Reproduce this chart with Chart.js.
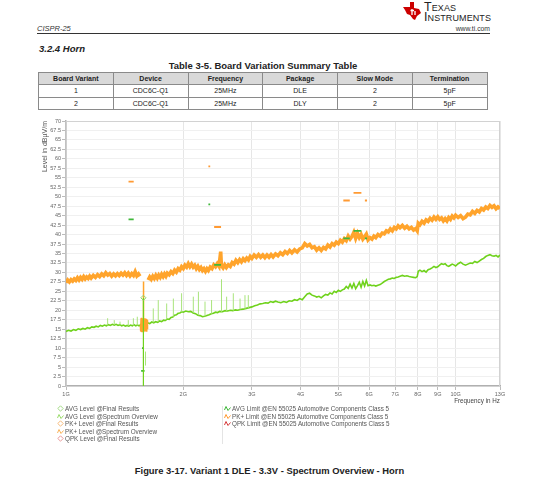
<!DOCTYPE html>
<html>
<head>
<meta charset="utf-8">
<script src="https://cdn.jsdelivr.net/npm/chart.js@4.4.1/dist/chart.umd.min.js"></script>
<style>
  html, body { margin: 0; padding: 0; background: #fff; }
  body { width: 539px; height: 480px; position: relative; overflow: hidden; font-family: "Liberation Sans", Arial, sans-serif; color: #222; }
  .abs { position: absolute; }
  #brand { left: 424px; top: 3px; font-size: 12.5px; line-height: 9.5px; font-variant: small-caps; letter-spacing: 0.1px; color: #222; }
  #doc { left: 37px; top: 24px; font-size: 7.5px; font-style: italic; color: #333; }
  #url { right: 49px; top: 25px; font-size: 6.8px; color: #333; }
  #rule { left: 37px; top: 32.5px; width: 453px; height: 1.7px; background: #333; }
  #section { left: 39px; top: 43px; font-size: 9.5px; font-weight: bold; font-style: italic; }
  #tabTitle { left: 38px; top: 59.5px; width: 450px; text-align: center; font-size: 9.5px; font-weight: bold; }
  table { position: absolute; left: 38px; top: 71.5px; width: 449.5px; border-collapse: collapse; table-layout: fixed; font-size: 7px; }
  td, th { border: 1px solid #8a8a8a; height: 11.6px; padding: 0; text-align: center; line-height: 11px; }
  th { background: #d9d9d9; font-weight: bold; }
  #wrap { left: 0; top: 112px; width: 539px; height: 300px; }
  .leg { font-size: 6.3px; color: #555; line-height: 7.6px; white-space: nowrap; }
  .leg svg { vertical-align: -1px; margin-right: 1px; }
  #legL { left: 57px; top: 405px; }
  #legR { left: 224px; top: 405px; }
  #legSep { left: 222px; top: 406px; width: 1px; height: 38px; background: #e4e4e4; }
  #caption { left: 0; top: 465px; width: 539px; text-align: center; font-size: 9.4px; font-weight: bold; }
</style>
</head>
<body>
<svg class="abs" style="left:402px;top:1px" width="20" height="20" viewBox="0 0 20 20">
  <path d="M1,6 L8,6 L8,1 L12,1 L12,7 L17,8 L19,12 L15,15 L13,19 L11,18 L8,14 L5,13 L3,9 Z" fill="#cc0000"/>
  <path d="M10,8 L10,14 M8.5,9.5 L12,9.5 M13,10 L13,14" stroke="#fff" stroke-width="1.3"/>
</svg>
<div id="brand" class="abs">Texas<br>Instruments</div>
<div id="doc" class="abs">CISPR-25</div>
<div id="url" class="abs">www.ti.com</div>
<div id="rule" class="abs"></div>
<div id="section" class="abs">3.2.4 Horn</div>
<div id="tabTitle" class="abs">Table 3-5. Board Variation Summary Table</div>
<table>
  <tr><th>Board Variant</th><th>Device</th><th>Frequency</th><th>Package</th><th>Slow Mode</th><th>Termination</th></tr>
  <tr><td>1</td><td>CDC6C-Q1</td><td>25MHz</td><td>DLE</td><td>2</td><td>5pF</td></tr>
  <tr><td>2</td><td>CDC6C-Q1</td><td>25MHz</td><td>DLY</td><td>2</td><td>5pF</td></tr>
</table>

<div id="wrap" class="abs"><canvas id="emcChart" width="539" height="300"></canvas></div>

<div id="legL" class="abs leg"></div>
<div id="legSep" class="abs"></div>
<div id="legR" class="abs leg"></div>
<div id="caption" class="abs">Figure 3-17. Variant 1 DLE - 3.3V - Spectrum Overview - Horn</div>

<script>
// axis ticks
const xTickValues = [1, 2, 3, 4, 5, 6, 7, 8, 9, 10, 13];
const xTickLabels = ['1G', '2G', '3G', '4G', '5G', '6G', '7G', '8G', '9G', '10G', '13G'];
const yTickValues = [0, 2.5, 5, 7.5, 10, 12.5, 15, 17.5, 20, 22.5, 25, 27.5, 30, 32.5, 35, 37.5, 40,
  42.5, 45, 47.5, 50, 52.5, 55, 57.5, 60, 62.5, 65, 67.5, 70];

// PK+ Level @Spectrum Overview (GHz, dBµV/m), null = gap
const pkFreq = [1.000, 1.010, 1.020, 1.030, 1.040, 1.050, 1.060, 1.070, 1.080, 1.090, 1.100, 1.110, 1.120, 1.130,
  1.140, 1.150, 1.160, 1.175, 1.190, 1.205, 1.220, 1.235, 1.250, 1.265, 1.280, 1.295, 1.310, 1.325, 1.340, 1.355,
  1.370, 1.385, 1.400, 1.415, 1.430, 1.445, 1.460, 1.475, 1.490, 1.505, 1.520, 1.535, 1.548, 1.552,
  1.625, 1.640, 1.655, 1.670, 1.685, 1.700, 1.715, 1.730, 1.745, 1.760, 1.775, 1.790, 1.805, 1.820, 1.840, 1.860,
  1.880, 1.900, 1.920, 1.940, 1.960, 1.980, 2.000, 2.020, 2.040, 2.060, 2.080, 2.100, 2.120, 2.140, 2.160, 2.180,
  2.200, 2.220, 2.240, 2.260, 2.280, 2.300, 2.320, 2.345, 2.370, 2.395, 2.420, 2.445, 2.470, 2.495, 2.505, 2.530,
  2.555, 2.580, 2.610, 2.640, 2.670, 2.700, 2.730, 2.760, 2.790, 2.820, 2.850, 2.880, 2.910, 2.940, 2.970, 3.000,
  3.040, 3.080, 3.120, 3.160, 3.200, 3.240, 3.280, 3.320, 3.360, 3.400, 3.450, 3.500, 3.550, 3.600, 3.650, 3.700,
  3.750, 3.800, 3.860, 3.920, 3.980, 4.040, 4.100, 4.160, 4.220, 4.280, 4.340, 4.400, 4.460, 4.520, 4.580, 4.640,
  4.700, 4.760, 4.820, 4.880, 4.940, 5.000, 5.060, 5.120, 5.180, 5.240, 5.300, 5.360, 5.420, 5.480, 5.540, 5.600,
  5.660, 5.720, 5.780, 5.840, 5.900, 5.960, 6.030, 6.100, 6.170, 6.240, 6.320, 6.400, 6.480, 6.560, 6.640, 6.720,
  6.800, 6.880, 6.960, 7.040, 7.120, 7.200, 7.300, 7.400, 7.500, 7.600, 7.700, 7.800, 7.900, 7.970, 8.020, 8.100,
  8.200, 8.300, 8.400, 8.500, 8.600, 8.700, 8.800, 8.900, 9.000, 9.100, 9.200, 9.300, 9.400, 9.500, 9.600, 9.700,
  9.800, 9.900, 10.00, 10.15, 10.30, 10.45, 10.60, 10.75, 10.90, 11.05, 11.20, 11.35, 11.50, 11.65, 11.80, 11.95,
  12.10, 12.25, 12.40, 12.55, 12.70, 12.85, 13.00];
const pkLevel = [27.3, 28.0, 27.5, 28.1, 27.7, 28.3, 27.9, 28.6, 28.0, 28.7, 28.2, 28.9, 28.3, 28.8,
  28.4, 29.0, 28.5, 29.2, 28.7, 29.4, 28.9, 29.6, 29.1, 29.9, 29.3, 29.7, 29.0, 29.6, 29.1, 29.7,
  29.2, 29.8, 29.3, 29.9, 29.2, 29.8, 29.1, 29.7, 29.2, 30.2, 29.1, 29.6, 29.0, null,
  28.0, 28.8, 28.2, 29.0, 28.4, 29.2, 28.5, 29.3, 28.7, 29.5, 28.9, 29.6, 29.0, 29.8, 29.4, 30.2,
  29.7, 30.6, 30.1, 31.0, 30.6, 31.5, 31.0, 31.9, 31.4, 32.3, 31.5, 32.2, 31.4, 31.9, 31.0, 31.6,
  30.8, 31.3, 30.5, 31.0, 30.3, 31.0, 30.5, 31.4, 31.0, 32.0, 31.5, 32.3, 31.6, 35.5, 31.8, 31.2,
  32.0, 31.3, 32.0, 31.6, 32.6, 32.2, 33.2, 32.6, 33.4, 32.8, 33.6, 33.1, 33.8, 33.3, 34.2, 33.7,
  34.6, 34.0, 34.7, 34.0, 34.6, 33.9, 34.6, 34.0, 34.7, 34.1, 34.9, 34.4, 35.2, 34.7, 35.5, 35.0,
  35.8, 35.2, 36.0, 35.4, 36.2, 36.5, 37.6, 37.0, 37.4, 36.5, 36.8, 35.9, 36.5, 35.8, 36.6, 36.2,
  37.2, 36.7, 37.6, 37.2, 38.0, 37.6, 38.5, 38.0, 38.9, 38.4, 39.6, 38.8, 39.5, 40.6, 39.0, 40.3,
  39.2, 40.0, 38.8, 39.4, 40.1, 38.6, 39.2, 38.8, 39.6, 39.2, 40.0, 39.6, 40.4, 40.2, 41.0, 40.7,
  41.5, 41.0, 41.9, 41.5, 42.3, 41.8, 42.4, 41.7, 42.2, 41.5, 41.9, 41.2, 41.6, 41.0, 43.0, 42.6,
  43.5, 43.0, 43.9, 43.5, 44.3, 43.8, 44.6, 44.0, 44.7, 44.0, 44.4, 43.6, 44.2, 43.6, 44.5, 44.0,
  44.9, 44.4, 45.1, 44.5, 45.0, 44.2, 44.6, 45.4, 45.2, 46.1, 45.6, 46.4, 46.0, 46.9, 46.5, 47.3,
  46.9, 47.7, 47.2, 47.6, 46.8, 47.3, 46.9];

// PK+ spectrum inside the GPS band (dense block)
const pkGpsFreq = [1.552, 1.555, 1.558, 1.561, 1.564, 1.567, 1.570, 1.573, 1.576, 1.579, 1.580, 1.581, 1.583,
  1.586, 1.589, 1.592, 1.595, 1.598, 1.601, 1.604, 1.607, 1.610, 1.613, 1.616, 1.619];
const pkGpsLevel = [16.0, 14.4, 17.9, 14.3, 18.0, 14.4, 17.9, 14.5, 17.8, 14.4, 17.6, 27.6, 14.5,
  17.8, 14.4, 17.9, 14.5, 17.8, 14.6, 17.6, 14.5, 17.7, 14.6, 17.4, 15.0];

// AVG Level @Spectrum Overview
const avgFreq = [1.000, 1.015, 1.030, 1.045, 1.060, 1.075, 1.090, 1.105, 1.120, 1.135, 1.150, 1.165, 1.180, 1.195,
  1.210, 1.225, 1.240, 1.255, 1.270, 1.285, 1.300, 1.315, 1.330, 1.345, 1.360, 1.375, 1.390, 1.405, 1.420, 1.435,
  1.450, 1.465, 1.480, 1.495, 1.510, 1.525, 1.540, 1.560, 1.580, 1.600, 1.620, 1.640, 1.660, 1.680, 1.700, 1.720,
  1.740, 1.760, 1.780, 1.800, 1.820, 1.840, 1.860, 1.880, 1.900, 1.920, 1.940, 1.960, 1.980, 2.000, 2.030, 2.060,
  2.090, 2.120, 2.150, 2.180, 2.210, 2.240, 2.270, 2.300, 2.330, 2.360, 2.390, 2.420, 2.450, 2.480, 2.520, 2.560,
  2.600, 2.640, 2.680, 2.720, 2.760, 2.800, 2.850, 2.900, 2.950, 3.000, 3.050, 3.100, 3.150, 3.200, 3.250, 3.300,
  3.350, 3.400, 3.450, 3.500, 3.560, 3.620, 3.680, 3.740, 3.800, 3.860, 3.920, 3.980, 4.040, 4.100, 4.160, 4.220,
  4.280, 4.340, 4.400, 4.460, 4.520, 4.580, 4.640, 4.700, 4.760, 4.820, 4.880, 4.940, 5.000, 5.060, 5.120, 5.180,
  5.240, 5.300, 5.360, 5.420, 5.480, 5.540, 5.600, 5.660, 5.720, 5.780, 5.840, 5.900, 5.960, 6.030, 6.100, 6.170,
  6.240, 6.320, 6.400, 6.480, 6.560, 6.640, 6.720, 6.800, 6.880, 6.960, 7.040, 7.120, 7.200, 7.300, 7.400, 7.500,
  7.600, 7.700, 7.800, 7.900, 7.970, 8.020, 8.100, 8.200, 8.300, 8.400, 8.500, 8.600, 8.700, 8.800, 8.900, 9.000,
  9.100, 9.200, 9.300, 9.400, 9.500, 9.600, 9.700, 9.800, 9.900, 10.00, 10.15, 10.30, 10.45, 10.60, 10.75, 10.90,
  11.05, 11.20, 11.35, 11.50, 11.65, 11.80, 11.95, 12.10, 12.25, 12.40, 12.55, 12.70, 12.85, 13.00];
const avgLevel = [14.4, 14.7, 14.5, 14.9, 14.7, 15.1, 14.9, 15.2, 15.0, 15.4, 15.2, 15.6, 15.5, 15.8,
  15.6, 16.0, 15.8, 16.1, 15.9, 16.2, 16.0, 16.3, 16.1, 16.3, 16.0, 16.2, 15.9, 16.1, 15.8, 16.0,
  15.8, 16.1, 15.9, 16.2, 15.9, 16.1, 15.9, 16.3, 16.5, 16.4, 16.7, 16.5, 16.9, 16.7, 17.0, 16.8,
  17.2, 17.0, 17.4, 17.3, 17.7, 17.6, 18.1, 18.2, 18.7, 18.8, 19.2, 19.3, 19.6, 19.5, 19.8, 19.6,
  19.7, 19.3, 19.1, 18.7, 18.6, 18.3, 18.4, 18.6, 18.8, 19.1, 19.2, 19.5, 19.4, 19.7, 19.6, 19.9,
  19.8, 20.0, 19.9, 20.1, 20.0, 20.2, 20.3, 20.5, 20.7, 20.9, 21.2, 21.4, 21.7, 21.8, 22.0, 21.9,
  22.3, 22.1, 22.4, 22.2, 22.0, 22.3, 22.1, 22.5, 22.4, 22.8, 22.6, 23.1, 22.8, 23.6, 24.3, 24.5,
  24.0, 23.8, 23.5, 23.7, 23.3, 23.8, 24.2, 24.0, 24.6, 24.3, 25.0, 24.7, 25.3, 25.0, 25.4, 25.6,
  26.3, 25.8, 26.9, 25.9, 27.1, 25.7, 26.5, 27.4, 26.1, 27.6, 26.4, 27.9, 26.5, 26.7, 26.5, 26.6,
  26.4, 26.6, 26.8, 27.2, 27.6, 27.9, 28.2, 28.3, 28.5, 28.4, 28.7, 28.8, 29.0, 29.2, 29.0, 29.1,
  28.9, 28.8, 28.7, 28.6, 28.9, 30.3, 30.6, 30.2, 30.5, 30.1, 30.7, 30.9, 31.2, 31.6, 31.3, 31.5,
  31.9, 32.3, 32.1, 32.3, 31.8, 31.6, 31.9, 32.2, 32.0, 31.7, 32.3, 32.7, 32.2, 31.9, 32.2, 32.5,
  32.4, 32.9, 32.6, 33.0, 33.4, 33.7, 34.2, 34.5, 34.7, 34.4, 34.3, 34.5, 34.1, 34.6];

// narrow AVG spikes (light green)
const spikeFreq = [1.279, 1.330, 1.376, 1.445, 1.489, 1.524, 1.600, 1.675, 1.725, 1.813, 1.886, 1.980, 2.122,
  2.187, 2.274, 2.364, 2.507, 2.584, 2.688, 2.797, 2.880, 2.937];
const spikeLow = [16.0, 16.1, 16.1, 15.9, 16.0, 16.0, 5.4, 16.8, 17.0, 17.6, 18.3, 19.6, 19.3,
  18.7, 18.4, 19.1, 19.6, 19.8, 19.9, 20.2, 20.3, 20.6];
const spikeHigh = [17.9, 17.4, 17.0, 17.4, 17.9, 18.3, 9.1, 20.5, 22.7, 21.8, 23.1, 24.5, 23.6,
  24.9, 22.3, 22.7, 28.2, 23.6, 24.5, 23.1, 24.0, 24.0];

// AVG Level @Final Results
const avgFinalFreq = [1.58];
const avgFinalLevel = [23.3];

// EN 55025 class 5 limit segments
const limitStart = [1.447, 1.559, 1.567, 2.320, 2.400, 5.150, 5.470, 5.850];
const limitEnd = [1.492, 1.591, 1.583, 2.345, 2.500, 5.350, 5.730, 5.925];
const avgLimit = [44, 4, 10, 48, 32, 39, 41, 39];
const pkLimit = [54, null, null, 58, 42, 49, 51, 49];

const toXY = (xs, ys) => xs.map((x, i) => ({ x: x, y: ys[i] }));
const segs = (ys) => {
  const out = [];
  limitStart.forEach((s, i) => {
    if (ys[i] === null) return;
    out.push({ x: s, y: ys[i] }, { x: limitEnd[i], y: ys[i] }, { x: limitEnd[i], y: null });
  });
  return out;
};
const spikes = [];
spikeFreq.forEach((f, i) => spikes.push({ x: f, y: spikeLow[i] }, { x: f, y: spikeHigh[i] }, { x: f, y: null }));
const finalDrop = [];
avgFinalFreq.forEach((f, i) => finalDrop.push({ x: f, y: 0 }, { x: f, y: avgFinalLevel[i] }, { x: f, y: null }));

const orange = '#ffa42c';
const green = '#6fd21c';

const frame = {
  id: 'frame',
  beforeDatasetsDraw(chart) {
    const a = chart.chartArea, c = chart.ctx;
    c.save();
    c.strokeStyle = '#d2d2d2';
    c.lineWidth = 1;
    c.strokeRect(a.left, a.top + 0.5, a.right - a.left - 0.5, a.bottom - a.top);
    c.restore();
  }
};

new Chart(document.getElementById('emcChart'), {
  type: 'line',
  data: {
    datasets: [
      { label: 'AVG Level @Final Results', data: finalDrop, borderColor: green, borderWidth: 1.2,
        pointStyle: 'rectRot', pointRadius: (ctx) => (ctx.dataIndex % 3 === 1 ? 2.6 : 0),
        pointBorderColor: '#8fd86a', pointBackgroundColor: 'rgba(255,255,255,0)', pointBorderWidth: 1, order: 1 },
      { label: 'AVG Limit', data: segs(avgLimit), borderColor: '#3fb83a', borderWidth: 1.8, pointRadius: 0, order: 2 },
      { label: 'PK+ Limit', data: segs(pkLimit), borderColor: '#ff9a33', borderWidth: 1.8, pointRadius: 0, order: 2 },
      { label: 'PK+ GPS', data: toXY(pkGpsFreq, pkGpsLevel), borderColor: orange, borderWidth: 1.5, pointRadius: 0, order: 3 },
      { label: 'AVG spikes', data: spikes, borderColor: '#a9e47c', borderWidth: 1, pointRadius: 0, order: 4 },
      { label: 'AVG Level @Spectrum Overview', data: toXY(avgFreq, avgLevel), borderColor: green, borderWidth: 1.6,
        pointRadius: 0, order: 5 },
      { label: 'PK+ Level @Spectrum Overview', data: toXY(pkFreq, pkLevel), borderColor: orange, borderWidth: 3.6,
        pointRadius: 0, order: 6 }
    ]
  },
  options: {
    responsive: false,
    animation: false,
    events: [],
    layout: { padding: { top: 9, right: 39, left: 0, bottom: 0 } },
    plugins: { legend: { display: false }, tooltip: { enabled: false } },
    scales: {
      x: {
        type: 'logarithmic',
        min: 1,
        max: 13,
        afterBuildTicks: (s) => { s.ticks = xTickValues.map(v => ({ value: v })); },
        afterFit: (s) => { s.height = 26; },
        ticks: {
          autoSkip: false, maxRotation: 0, padding: 1,
          color: '#666', font: { size: 5.5, family: 'Liberation Sans' },
          callback: (v, i) => xTickLabels[i]
        },
        grid: { color: '#e6e6e6', tickLength: 4, tickColor: '#bbb' },
        border: { color: '#b0b0b0', width: 1.5 },
        title: { display: true, text: 'Frequency in Hz', align: 'end', color: '#444',
          font: { size: 6.3, family: 'Liberation Sans' }, padding: { top: 0, bottom: 7 } }
      },
      y: {
        min: 0,
        max: 70,
        afterBuildTicks: (s) => { s.ticks = yTickValues.map(v => ({ value: v })); },
        afterFit: (s) => { s.width = 66; },
        ticks: {
          autoSkip: false, padding: 1,
          color: '#666', font: { size: 5.5, family: 'Liberation Sans' },
          callback: (v) => String(v)
        },
        grid: { color: '#f0f0f0', tickLength: 4, tickColor: '#bbb' },
        border: { color: '#b0b0b0', width: 1.5 },
        title: { display: true, text: 'Level in dBµV/m', align: 'end', color: '#555',
          font: { size: 7, family: 'Liberation Sans' }, padding: { top: 41, bottom: 0 } }
      }
    }
  },
  plugins: [frame]
});

// legend
const wave = (c) => '<svg width="7" height="7"><path d="M0.5,5 L2,1.5 L4,5.5 L6.5,2.5" stroke="' + c + '" stroke-width="1" fill="none"/></svg>';
const diamond = (c) => '<svg width="7" height="7"><path d="M3.5,0.8 L6.2,3.5 L3.5,6.2 L0.8,3.5 Z" stroke="' + c + '" stroke-width="0.9" fill="none"/></svg>';
const legLeft = [
  [diamond('#9bd77a'), 'AVG Level @Final Results'],
  [wave('#9bdc6c'), 'AVG Level @Spectrum Overview'],
  [diamond('#f6b26b'), 'PK+ Level @Final Results'],
  [wave('#f9b45c'), 'PK+ Level @Spectrum Overview'],
  [diamond('#e89090'), 'QPK Level @Final Results']
];
const legRight = [
  [wave('#3fb83a'), 'AVG Limit @EN 55025 Automotive Components Class 5'],
  [wave('#ff9a33'), 'PK+ Limit @EN 55025 Automotive Components Class 5'],
  [wave('#d63c3c'), 'QPK Limit @EN 55025 Automotive Components Class 5']
];
document.getElementById('legL').innerHTML = legLeft.map(r => '<div>' + r[0] + r[1] + '</div>').join('');
document.getElementById('legR').innerHTML = legRight.map(r => '<div>' + r[0] + r[1] + '</div>').join('');
</script>
</body>
</html>
